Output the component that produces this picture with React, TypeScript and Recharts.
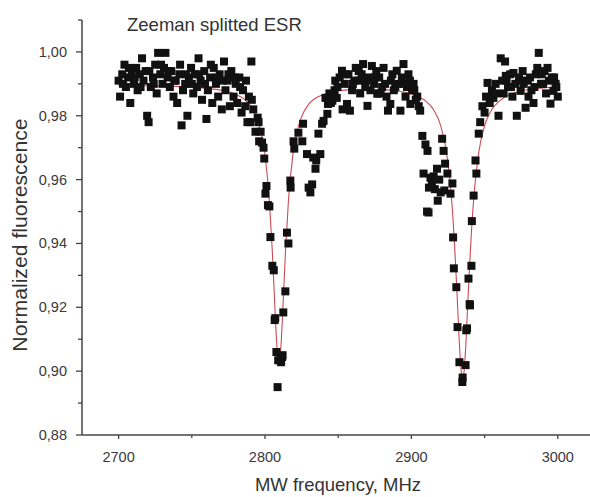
import React from "react";
import { ComposedChart, Scatter, Line, XAxis, YAxis } from "recharts";

// measured points (MHz, normalized fluorescence)
const freq = [
  2700, 2701, 2702.5, 2704, 2705, 2706.5, 2708, 2709, 2710.5, 2712, 2713, 2714.5, 2716, 2717, 2718.5,
  2719.5, 2720.5, 2722, 2723.5, 2725, 2726, 2727, 2728.5, 2730, 2731, 2732, 2733.5, 2735, 2736, 2737.5,
  2739, 2740, 2741.5, 2743, 2744, 2745.5, 2747, 2748, 2749.5, 2751, 2752, 2753.5, 2754.6, 2756, 2757,
  2758.5, 2760, 2761, 2762.5, 2764, 2765, 2766.5, 2768, 2769, 2770.5, 2772, 2773, 2774.5, 2776, 2777,
  2778.5, 2780, 2781, 2782.5, 2784, 2785, 2786.5, 2788, 2789, 2790, 2790.7, 2792, 2793.5, 2795, 2795.6,
  2796, 2797, 2798, 2799, 2799.5, 2800.3, 2801, 2802, 2803, 2803.7, 2805, 2806, 2806.6, 2807, 2807.8,
  2809, 2808.6, 2810.6, 2811, 2811.7, 2812.5, 2812, 2813.9, 2815, 2816, 2817.3, 2817.5, 2819.5, 2820,
  2822.8, 2825.5, 2826, 2828.7, 2829.8, 2831, 2832.2, 2833, 2834.5, 2835, 2836.5, 2837.8, 2839, 2840,
  2841.3, 2842.6, 2843, 2845, 2846, 2847.5, 2849, 2849.5, 2851, 2852.6, 2853, 2854.5, 2856, 2857, 2858,
  2859.5, 2861, 2862, 2863.8, 2865, 2866, 2867, 2868.5, 2870, 2871, 2872, 2873, 2874.5, 2876, 2876.7,
  2878, 2880, 2881, 2882, 2883, 2884, 2885.6, 2887, 2888, 2890, 2891, 2892.5, 2893.5, 2894.6, 2896,
  2897, 2898, 2899.3, 2900.5, 2901.5, 2903, 2904, 2905, 2906, 2907.5, 2908.3, 2909.6, 2910.7, 2911,
  2911.7, 2912, 2913, 2914, 2915.2, 2916, 2917.5, 2918, 2919, 2920, 2921, 2922, 2922.5, 2923, 2924.6,
  2926.7, 2928, 2928.5, 2929, 2930.7, 2931.5, 2932.8, 2934.8, 2935, 2937, 2937.5, 2938, 2939, 2939.8,
  2940, 2941, 2941.3, 2942.5, 2943.8, 2944.4, 2946, 2947, 2948.5, 2950, 2951, 2952, 2953.5, 2955, 2956,
  2957.5, 2959.5, 2961, 2962, 2963, 2964, 2964.5, 2966, 2967.5, 2969, 2969.7, 2971, 2972, 2973.5, 2974.6,
  2976, 2976.7, 2978, 2979.5, 2981, 2982, 2983.4, 2985, 2986, 2987, 2988.5, 2990, 2991, 2992, 2993,
  2994, 2995, 2996, 2997, 2998.5, 3000,
  2703, 2707, 2711, 2715, 2721, 2724, 2729, 2734, 2738, 2742, 2746, 2750, 2755, 2759, 2763, 2767, 2771,
  2775, 2779, 2783, 2787, 2791, 2844, 2848, 2855, 2860, 2864, 2869, 2875, 2879, 2886, 2889, 2895, 2899,
  2902, 2958, 2965, 2968, 2975, 2980, 2984, 2989, 2997.5, 2999,
];
const signal = [
  0.991, 0.986, 0.993, 0.996, 0.989, 0.992, 0.984, 0.994, 0.99, 0.995, 0.988, 0.993, 0.998, 0.991, 0.994,
  0.98, 0.978, 0.989, 0.992, 0.996, 0.987, 0.9997, 0.993, 0.99, 0.995, 0.9997, 0.992, 0.989, 0.994, 0.986,
  0.991, 0.984, 0.993, 0.977, 0.988, 0.99, 0.98, 0.992, 0.995, 0.987, 0.993, 0.989, 0.998, 0.991, 0.985,
  0.994, 0.979, 0.988, 0.992, 0.984, 0.995, 0.99, 0.986, 0.993, 0.982, 0.997, 0.988, 0.991, 0.983, 0.994,
  0.986, 0.99, 0.984, 0.992, 0.981, 0.988, 0.983, 0.978, 0.986, 0.978, 0.997, 0.982, 0.975, 0.9794, 0.978,
  0.972, 0.975, 0.9716, 0.97, 0.9666, 0.9556, 0.958, 0.952, 0.9516, 0.942, 0.933, 0.9316, 0.916, 0.9166, 0.906,
  0.9034, 0.895, 0.904, 0.9028, 0.9044, 0.9184, 0.905, 0.925, 0.9434, 0.94, 0.9597, 0.9575, 0.972, 0.9697,
  0.9747, 0.972, 0.9775, 0.968, 0.9575, 0.956, 0.9585, 0.9669, 0.9634, 0.966, 0.9744, 0.968, 0.9775, 0.9784,
  0.9856, 0.9806, 0.9837, 0.984, 0.9847, 0.988, 0.9856, 0.989, 0.992, 0.9941, 0.982, 0.99, 0.9837, 0.993, 0.9816,
  0.988, 0.991, 0.995, 0.991, 0.987, 0.993, 0.9962, 0.989, 0.9831, 0.992, 0.988, 0.9956, 0.99, 0.994, 0.9869,
  0.992, 0.989, 0.995, 0.99, 0.986, 0.9816, 0.9837, 0.993, 0.988, 0.9941, 0.99, 0.9816, 0.992, 0.9962, 0.986,
  0.989, 0.993, 0.9837, 0.988, 0.99, 0.985, 0.986, 0.983, 0.9816, 0.9737, 0.9619, 0.971, 0.95, 0.969,
  0.9497, 0.9575, 0.9606, 0.9588, 0.961, 0.957, 0.9634, 0.9534, 0.96, 0.956, 0.9728, 0.969, 0.9566, 0.965, 0.9619,
  0.9556, 0.9588, 0.9419, 0.9322, 0.9263, 0.9138, 0.9028, 0.8966, 0.898, 0.9019, 0.9128, 0.9134, 0.929, 0.921,
  0.9206, 0.933, 0.947, 0.955, 0.966, 0.9619, 0.9744, 0.978, 0.983, 0.981, 0.986, 0.9903, 0.984, 0.988, 0.9856,
  0.99, 0.98, 0.998, 0.991, 0.987, 0.997, 0.9925, 0.989, 0.993, 0.986, 0.9934, 0.99, 0.98, 0.992, 0.9878,
  0.994, 0.99, 0.9825, 0.991, 0.992, 0.988, 0.984, 0.993, 0.995, 0.9997, 0.99, 0.99, 0.994, 0.987, 0.995,
  0.991, 0.9838, 0.992, 0.9878, 0.99, 0.986,
  0.99, 0.995, 0.992, 0.989, 0.994, 0.99, 0.996, 0.994, 0.991, 0.996, 0.993, 0.99, 0.993, 0.99, 0.996, 0.992, 0.991,
  0.993, 0.992, 0.989, 0.991, 0.985, 0.987, 0.991, 0.993, 0.99, 0.994, 0.991, 0.992, 0.987, 0.991, 0.989, 0.99, 0.991,
  0.988, 0.987, 0.991, 0.989, 0.991, 0.986, 0.989, 0.993, 0.992, 0.989,
];

// fitted curve
const fitFreq = [
  2700, 2720, 2740, 2760, 2770, 2780, 2785, 2790, 2795, 2800, 2803, 2805, 2807, 2808, 2809, 2809.5, 2810,
  2811, 2812, 2814, 2816, 2819, 2822, 2825, 2830, 2840, 2850, 2860, 2870, 2880, 2890, 2900, 2910, 2915,
  2920, 2924, 2927, 2929, 2931, 2933, 2934, 2935, 2936, 2937, 2939, 2941, 2943, 2946, 2950, 2955, 2960,
  2970, 2980, 2990, 3000,
];
const fitValue = [
  0.9895, 0.9894, 0.9892, 0.9886, 0.988, 0.9867, 0.9855, 0.9832, 0.9786, 0.9678, 0.9533, 0.9375, 0.9175,
  0.9086, 0.9033, 0.9026, 0.9033, 0.9086, 0.9175, 0.9375, 0.9533, 0.9676, 0.9753, 0.9797, 0.9837, 0.9867,
  0.9878, 0.9882, 0.9883, 0.9882, 0.9878, 0.9868, 0.9845, 0.982, 0.9769, 0.9685, 0.9565, 0.9436, 0.9259,
  0.9068, 0.9001, 0.8976, 0.9001, 0.9068, 0.9259, 0.9436, 0.9565, 0.9685, 0.9769, 0.982, 0.9846, 0.9871,
  0.9882, 0.9887, 0.989,
];

const xTicks = [2700, 2750, 2800, 2850, 2900, 2950, 3000];
const yTicks = [0.88, 0.89, 0.9, 0.91, 0.92, 0.93, 0.94, 0.95, 0.96, 0.97, 0.98, 0.99, 1.0, 1.01];

const points = freq.map((f, i) => ({ f, v: signal[i] }));
const fit = fitFreq.map((f, i) => ({ f, fit: fitValue[i] }));

const FONT = "'Liberation Sans', Arial, sans-serif";
const AXIS = "#444";

const XTick = ({ x, y, payload }: any) => {
  const major = payload.value % 100 === 0;
  return (
    <g>
      <line x1={x} y1={y} x2={x} y2={y + (major ? 4 : 3)} stroke={AXIS} strokeWidth={1.3} />
      {major && (
        <text x={x} y={y + 27} textAnchor="middle" fontSize={14.5} fill="#3a3a3a" fontFamily={FONT}>
          {payload.value}
        </text>
      )}
    </g>
  );
};

const YTick = ({ x, y, payload }: any) => {
  const major = Math.round(payload.value * 100) % 2 === 0;
  return (
    <g>
      <line x1={x - (major ? 6 : 4)} y1={y} x2={x} y2={y} stroke={AXIS} strokeWidth={1.3} />
      {major && (
        <text x={x - 15} y={y + 5} textAnchor="end" fontSize={14.5} fill="#3a3a3a" fontFamily={FONT}>
          {payload.value.toFixed(2).replace(".", ",")}
        </text>
      )}
    </g>
  );
};

const Square = ({ cx, cy }: any) => (
  <rect x={cx - 4} y={cy - 4} width={8} height={8} fill="#111" />
);

export default function App() {
  return (
    <div style={{ position: "absolute", left: 0, top: 0, width: 590, height: 497, background: "#fff" }}>
      <ComposedChart width={590} height={497} margin={{ top: 20, right: 0, bottom: 0, left: 0 }}>
        <XAxis
          type="number"
          dataKey="f"
          domain={[2675, 3022]}
          ticks={xTicks}
          height={62}
          tickSize={0}
          tickMargin={0}
          tickLine={false}
          tick={<XTick />}
          axisLine={{ stroke: AXIS, strokeWidth: 1.5 }}
          allowDataOverflow
        />
        <YAxis
          type="number"
          domain={[0.88, 1.01]}
          ticks={yTicks}
          width={82}
          tickSize={0}
          tickMargin={0}
          tickLine={false}
          tick={<YTick />}
          axisLine={{ stroke: AXIS, strokeWidth: 1.5 }}
          allowDataOverflow
        />
        <Scatter data={points} dataKey="v" shape={<Square />} isAnimationActive={false} />
        <Line
          data={fit}
          dataKey="fit"
          type="monotone"
          stroke="#cc4b55"
          strokeWidth={1.1}
          dot={false}
          isAnimationActive={false}
        />
      </ComposedChart>
      <div
        style={{
          position: "absolute",
          left: 127,
          top: 16,
          fontFamily: FONT,
          fontSize: 18.5,
          lineHeight: 1,
          color: "#333",
          whiteSpace: "nowrap",
        }}
      >
        Zeeman splitted ESR
      </div>
      <div
        style={{
          position: "absolute",
          left: 338,
          top: 476,
          transform: "translateX(-50%)",
          fontFamily: FONT,
          fontSize: 18.5,
          lineHeight: 1,
          color: "#333",
          whiteSpace: "nowrap",
        }}
      >
        MW frequency, MHz
      </div>
      <div
        style={{
          position: "absolute",
          left: 20,
          top: 235,
          transform: "translate(-50%, -50%) rotate(-90deg) scaleX(1.06)",
          fontFamily: FONT,
          fontSize: 20,
          lineHeight: 1,
          color: "#333",
          whiteSpace: "nowrap",
        }}
      >
        Normalized fluorescence
      </div>
    </div>
  );
}
